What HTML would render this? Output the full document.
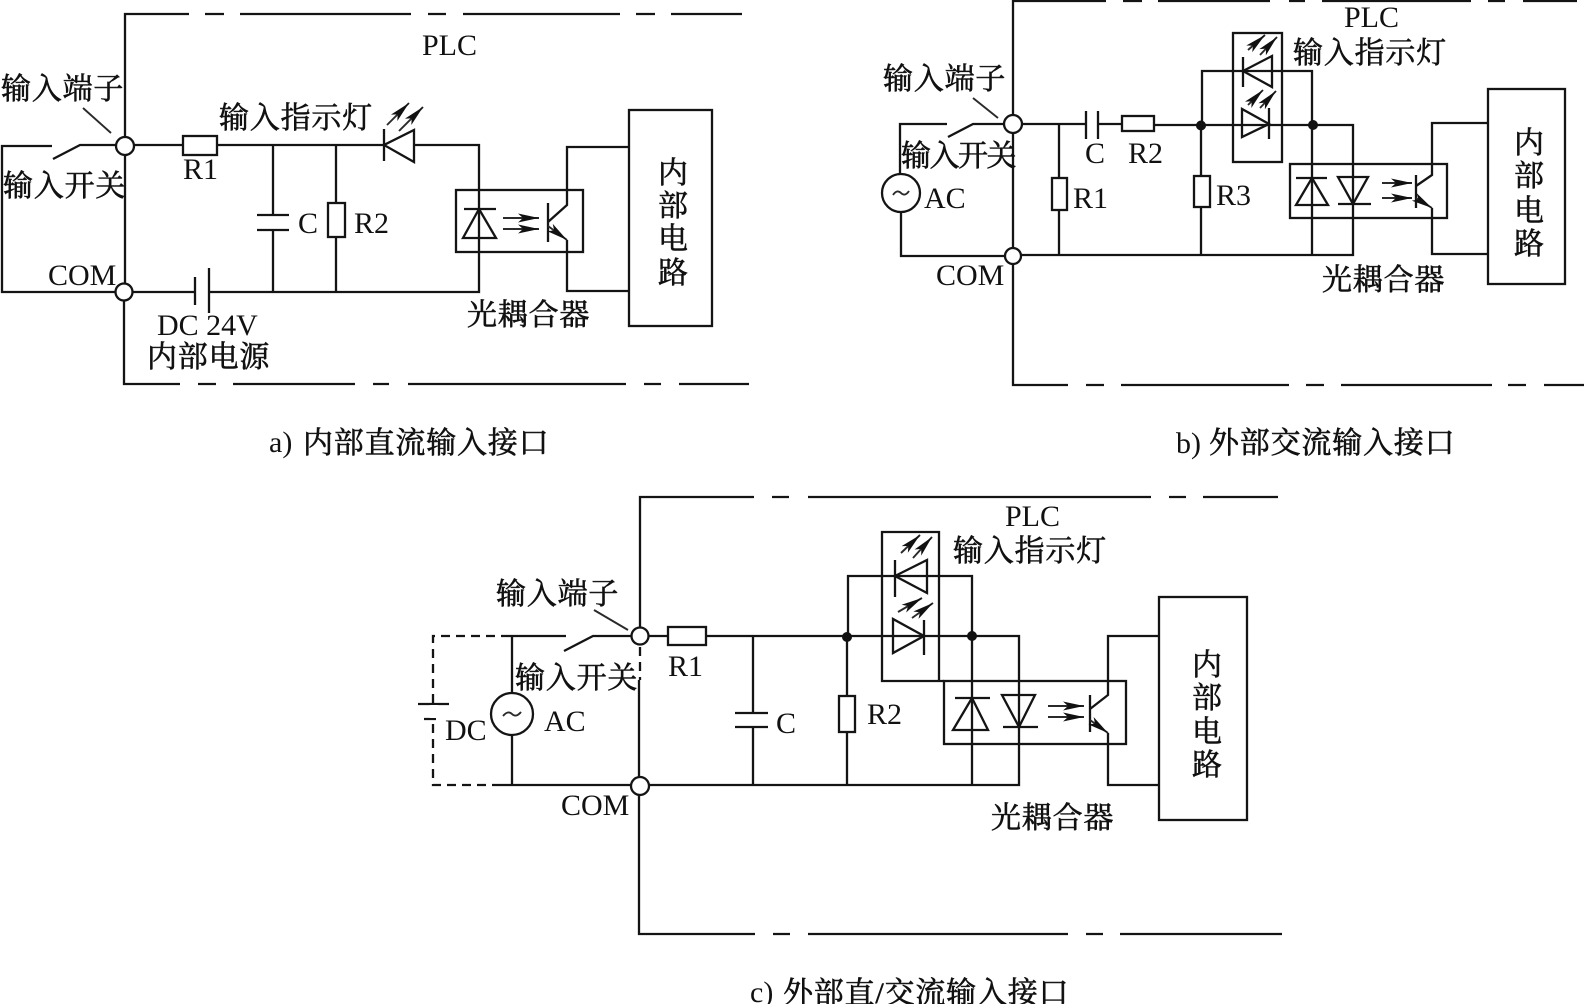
<!DOCTYPE html>
<html lang="zh">
<head>
<meta charset="utf-8">
<title>PLC input interface</title>
<style>
html,body{margin:0;padding:0;background:#fff;width:1584px;height:1004px;overflow:hidden}
svg{display:block}
.l{fill:none;stroke:#141414;stroke-width:2.3;stroke-linejoin:miter}
.t{fill:none;stroke:#2a2a2a;stroke-width:1.9}
.d{fill:none;stroke:#141414;stroke-width:2.3;stroke-dasharray:9 6}
.c{fill:#fff;stroke:#141414;stroke-width:2.3}
.w{fill:#fff;stroke:#141414;stroke-width:2.3}
text{font-size:30px;fill:#111}
.e{font-family:"Liberation Serif",serif}
.z{font-family:"Liberation Serif","Noto Serif CJK SC",serif;letter-spacing:.8px;stroke:#111;stroke-width:.6px}
</style>
</head>
<body>
<svg width="1584" height="1004" viewBox="0 0 1584 1004" xmlns="http://www.w3.org/2000/svg">
<defs>
<marker id="a" markerUnits="userSpaceOnUse" markerWidth="22" markerHeight="10" refX="21" refY="5" orient="auto">
<path d="M0 .5 L21 5 L0 9.500 L5 5 Z" fill="#111"/>
</marker>
</defs>

<!-- ========== A ========== -->
<path class="l" d="M125 292V14H189M205 14H224M240 14H411M428 14H446M463 14H620M636 14H655M671 14H742"/>
<path class="l" d="M124 292V384H180M198 384H216M233 384H355M373 384H389M408 384H626M644 384H661M679 384H749"/>
<path class="l" d="M52 146H2V292H195M209 292H479V145H217M183 145H125"/>
<path class="l" d="M53 159L80 145H116"/>
<path class="t" d="M83 108L111 133"/>
<circle class="c" cx="125" cy="146" r="9"/>
<circle class="c" cx="124" cy="292" r="8.5"/>
<rect class="w" x="183" y="136" width="34" height="19"/>
<path class="l" d="M273 145V215M273 230V292M257 215H289M257 230H289M336 145V203M336 237V292"/>
<rect class="w" x="328" y="203" width="17" height="34"/>
<path class="l" d="M195 277V305M209 268V313"/>
<path class="l" d="M384 129V161M414 130V162L384 145Z" style="fill:#fff"/>
<path class="t" d="M387 125L409 103" marker-end="url(#a)"/>
<path class="t" d="M399 131L423 107" marker-end="url(#a)"/>
<rect class="l" x="456" y="190" width="127" height="62"/>
<path class="l" d="M464 209H496M479 209L463 238H496Z"/>
<path class="t" d="M503 218H539" marker-end="url(#a)"/>
<path class="t" d="M503 229H539" marker-end="url(#a)"/>
<path class="l" d="M548 203V242M548 222L567 205V147H629M567 240V291H629"/>
<path class="t" d="M548 226L567 240" marker-end="url(#a)"/>
<rect class="l" x="629" y="110" width="83" height="216"/>

<text class="e" x="422" y="55">PLC</text>
<text class="z" x="1" y="99">输入端子</text>
<text class="z" x="3" y="196">输入开关</text>
<text class="z" x="219" y="128">输入指示灯</text>
<text class="z" x="467" y="325">光耦合器</text>
<text class="z" x="147" y="367">内部电源</text>
<text class="z" x="658" y="183">内</text>
<text class="z" x="658" y="216">部</text>
<text class="z" x="658" y="249">电</text>
<text class="z" x="658" y="283">路</text>
<text class="e" x="48" y="285">COM</text>
<text class="e" x="183" y="179">R1</text>
<text class="e" x="298" y="233">C</text>
<text class="e" x="354" y="233">R2</text>
<text class="e" x="157" y="335">DC 24V</text>
<text class="e" x="269" y="452">a)</text>
<text class="z" x="303" y="453">内部直流输入接口</text>

<!-- ========== B ========== -->
<path class="l" d="M1013 256V1H1106M1123 1H1142M1158 1H1270M1289 1H1305M1322 1H1471M1488 1H1505M1523 1H1577"/>
<path class="l" d="M1013 256V385H1068M1086 385H1104M1121 385H1289M1306 385H1324M1341 385H1492M1508 385H1526M1544 385H1584"/>
<path class="l" d="M947 124H900V174M901 212V256H1013M1013 255H1353V125H1154M1122 124H1098M1086 124H1013"/>
<path class="l" d="M948 137L973 124H1004"/>
<path class="t" d="M973 98L998 118"/>
<circle class="c" cx="1013" cy="124" r="9"/>
<circle class="c" cx="1013" cy="256" r="8"/>
<circle class="c" cx="901" cy="193" r="19"/>
<path class="t" d="M893 195Q897 189 901 193T909 191"/>
<path class="l" d="M1086 111V139M1098 111V139"/>
<rect class="w" x="1122" y="116" width="32" height="15"/>
<path class="l" d="M1059 124V178M1059 210V255M1201 125V176M1201 207V255M1202 125V71H1312V255"/>
<rect class="w" x="1052" y="178" width="15" height="32"/>
<rect class="w" x="1194" y="176" width="16" height="31"/>
<circle cx="1201" cy="125.500" r="5" fill="#111"/>
<circle cx="1313" cy="125" r="5" fill="#111"/>
<rect class="l" x="1233" y="33" width="49" height="129"/>
<path class="l" d="M1243 57V87M1272 56V87L1243 71ZM1242 109V137L1269 124ZM1269 108V139"/>
<path class="t" d="M1248 50L1265 35" marker-end="url(#a)"/>
<path class="t" d="M1260 55L1277 37" marker-end="url(#a)"/>
<path class="t" d="M1248 105L1263 90" marker-end="url(#a)"/>
<path class="t" d="M1260 108L1276 91" marker-end="url(#a)"/>
<rect class="l" x="1290" y="164" width="157" height="54"/>
<path class="l" d="M1296 178H1327M1312 178L1296 205H1328ZM1338 177H1368L1353 204ZM1338 204H1371"/>
<path class="t" d="M1382 183H1412" marker-end="url(#a)"/>
<path class="t" d="M1382 198H1412" marker-end="url(#a)"/>
<path class="l" d="M1416 175V208M1416 186L1432 175V123H1488M1432 208V254H1488"/>
<path class="t" d="M1416 198L1432 208" marker-end="url(#a)"/>
<rect class="l" x="1488" y="89" width="77" height="195"/>

<text class="e" x="1344" y="27">PLC</text>
<text class="z" x="883" y="89">输入端子</text>
<text class="z" x="901" y="166" style="letter-spacing:-1.500px">输入开关</text>
<text class="z" x="1293" y="63">输入指示灯</text>
<text class="z" x="1322" y="290">光耦合器</text>
<text class="z" x="1514" y="153">内</text>
<text class="z" x="1514" y="186">部</text>
<text class="z" x="1514" y="221">电</text>
<text class="z" x="1514" y="254">路</text>
<text class="e" x="924" y="208">AC</text>
<text class="e" x="936" y="285">COM</text>
<text class="e" x="1073" y="208">R1</text>
<text class="e" x="1085" y="163">C</text>
<text class="e" x="1128" y="163">R2</text>
<text class="e" x="1216" y="205">R3</text>
<text class="e" x="1176" y="453">b)</text>
<text class="z" x="1209" y="453">外部交流输入接口</text>

<!-- ========== C ========== -->
<path class="l" d="M640 628V497H754M772 497H789M808 497H1151M1169 497H1186M1203 497H1278"/>
<path class="l" d="M639 680V934H755M773 934H790M808 934H1068M1086 934H1103M1120 934H1282"/>
<path class="d" d="M640 647V680"/>
<path class="d" d="M510 636H433V785H493"/>
<path class="l" d="M510 636H566M493 785H1019V636H706M668 636H640"/>
<path class="l" d="M564 651L593 636H632"/>
<path class="t" d="M594 610L628 630"/>
<circle class="c" cx="640" cy="636" r="8.500"/>
<circle class="c" cx="640" cy="786" r="9"/>
<path class="l" d="M512 636V693M512 735V785"/>
<circle class="c" cx="512" cy="714" r="21"/>
<path class="t" d="M503 716Q508 710 512 714T521 712"/>
<path class="l" d="M418 704H449M424 719H436"/>
<rect x="430" y="705" width="8" height="13" fill="#fff"/>
<rect class="w" x="668" y="627" width="38" height="18"/>
<path class="l" d="M753 636V713M753 727V785M735 713H768M735 727H768M847 637V696M847 732V785M848 637V576H972V785"/>
<rect class="w" x="839" y="696" width="16" height="36"/>
<circle cx="847" cy="637" r="5" fill="#111"/>
<circle cx="972" cy="636" r="5" fill="#111"/>
<path class="l" d="M944 681H882V532H939V681"/>
<path class="l" d="M895 560V597M927 560V593L895 576ZM893 619V653L924 636ZM924 620V655"/>
<path class="t" d="M901 553L920 535" marker-end="url(#a)"/>
<path class="t" d="M913 558L932 537" marker-end="url(#a)"/>
<path class="t" d="M898 612L922 598" marker-end="url(#a)"/>
<path class="t" d="M912 618L933 603" marker-end="url(#a)"/>
<rect class="l" x="944" y="681" width="182" height="63"/>
<path class="l" d="M955 698H990M972 698L953 730H988ZM1002 695H1035L1019 727ZM1003 727H1038"/>
<path class="t" d="M1048 706H1084" marker-end="url(#a)"/>
<path class="t" d="M1048 717H1084" marker-end="url(#a)"/>
<path class="l" d="M1090 695V732M1090 709L1108 695V636H1159M1108 733V785H1159"/>
<path class="t" d="M1090 720L1108 733" marker-end="url(#a)"/>
<rect class="l" x="1159" y="597" width="88" height="223"/>

<text class="e" x="1005" y="526">PLC</text>
<text class="z" x="496" y="604">输入端子</text>
<text class="z" x="515" y="688">输入开关</text>
<text class="z" x="953" y="561">输入指示灯</text>
<text class="z" x="991" y="828">光耦合器</text>
<text class="z" x="1192" y="675">内</text>
<text class="z" x="1192" y="708">部</text>
<text class="z" x="1192" y="742">电</text>
<text class="z" x="1192" y="775">路</text>
<text class="e" x="445" y="740">DC</text>
<text class="e" x="544" y="731">AC</text>
<text class="e" x="561" y="815">COM</text>
<text class="e" x="668" y="676">R1</text>
<text class="e" x="776" y="733">C</text>
<text class="e" x="867" y="724">R2</text>
<text class="e" x="750" y="1002">c)</text>
<text class="z" x="783" y="1003">外部直/交流输入接口</text>
</svg>
</body>
</html>
